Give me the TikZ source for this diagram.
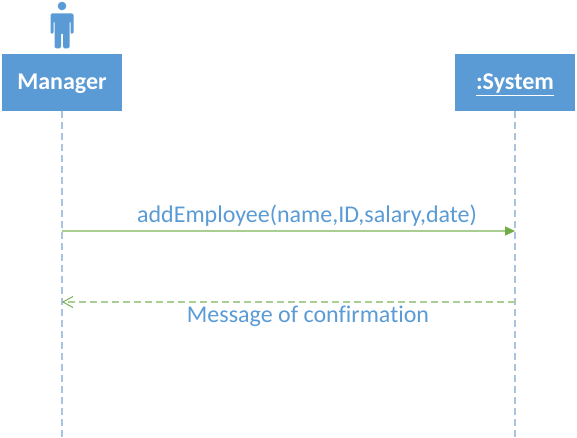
\documentclass[tikz,border=0pt]{standalone}
\usepackage{fontspec}
\setmainfont[Ligatures=NoCommon]{Carlito}
\usetikzlibrary{arrows.meta, positioning, calc}
\definecolor{boxblue}{HTML}{5B9BD5}
\definecolor{lineblue}{HTML}{A9C4E0}
\definecolor{msggreen}{HTML}{70AD47}
\tikzset{
    lifebox/.style={draw=none, fill=boxblue, text=white, minimum width=120pt, minimum height=57pt, inner sep=0pt, text height=20pt, text depth=5pt, font=\bfseries\fontsize{24}{24}\selectfont},
    lifeline/.style={draw=lineblue, line width=1.6pt, dash pattern=on 7pt off 4pt},
    msgtext/.style={text=boxblue, inner sep=0pt, font=\fontsize{24}{24}\selectfont},
    callmsg/.style={draw=msggreen!60, line width=1.5pt, -{Triangle[length=10pt, width=9pt, color=msggreen]}},
    replymsg/.style={draw=msggreen!60, line width=1.5pt, dash pattern=on 7pt off 4pt, -{Straight Barb[length=10pt, width=11pt, line width=.9pt, color=msggreen]}},
}

\begin{document}
\begin{tikzpicture}[x=1pt, y=-1pt]
    \useasboundingbox (0, 0) rectangle (577, 438);

    \node[lifebox] (manager) at (62, 82.5) {Manager};
    \node[lifebox] (system) at (515, 82.5) {\underline{:System}};

    \coordinate (managerend) at (62, 437);
    \coordinate (systemend) at (515, 437);
    \coordinate (call0) at (62, 231);
    \coordinate (call1) at (515, 231);
    \coordinate (reply0) at (515, 302);
    \coordinate (reply1) at (62, 302);

    % actor
    \fill[boxblue] (62, 6) circle (4.3);
    \fill[boxblue, rounded corners=1.5pt] (50.5, 34) -- (50.5, 13.5) -- (73.5, 13.5) -- (73.5, 34) -- (70.5, 34)
        -- (70.5, 21) -- (69.5, 21) -- (69.5, 48.5) -- (63, 48.5) -- (63, 33) -- (61, 33) -- (61, 48.5)
        -- (54.5, 48.5) -- (54.5, 21) -- (53.5, 21) -- (53.5, 34) -- cycle;

    \draw[lifeline] (manager) -- (managerend);
    \draw[lifeline] (system) -- (systemend);

    \draw[callmsg] (call0) -- (call1);
    \draw[replymsg] (reply0) -- (reply1);

    \node[msgtext] (calltext) at (307, 215.5) {addEmployee(name,ID,salary,date)};
    \node[msgtext] (replytext) at (308, 316) {Message of confirmation};
\end{tikzpicture}
\end{document}
